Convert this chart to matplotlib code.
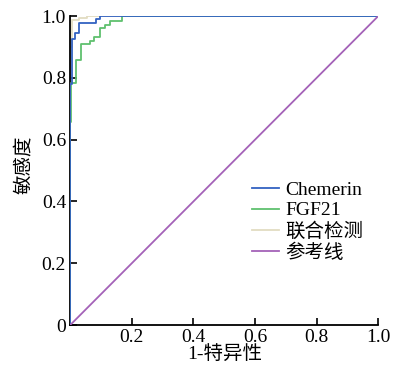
import matplotlib
matplotlib.use("Agg")
import matplotlib.pyplot as plt

plt.rcParams['font.family'] = ['Liberation Serif', 'Noto Sans CJK SC', 'DejaVu Sans']

# Chemerin ROC corners
chem_fpr = [0, 0, 0.005, 0.005, 0.015, 0.015, 0.03, 0.03, 0.085, 0.085, 0.097, 0.097, 1.0]
chem_tpr = [0, 0.78, 0.78, 0.927, 0.927, 0.944, 0.944, 0.977, 0.977, 0.989, 0.989, 1.0, 1.0]

# FGF21 ROC corners
fgf_fpr = [0, 0, 0.003, 0.003, 0.02, 0.02, 0.035, 0.035, 0.063, 0.063, 0.078, 0.078,
           0.098, 0.098, 0.112, 0.112, 0.13, 0.13, 0.167, 0.167, 1.0]
fgf_tpr = [0, 0.658, 0.658, 0.785, 0.785, 0.858, 0.858, 0.91, 0.91, 0.92, 0.92, 0.932,
           0.932, 0.96, 0.96, 0.972, 0.972, 0.985, 0.985, 1.0, 1.0]

# Combined detection ROC corners
comb_fpr = [0, 0, 0.005, 0.005, 0.028, 0.028, 0.056, 0.056, 1.0]
comb_tpr = [0, 0.9, 0.9, 0.986, 0.986, 0.994, 0.994, 1.0, 1.0]

ref_x = [0, 1]
ref_y = [0, 1]

labels = ['Chemerin', 'FGF21', '联合检测', '参考线']
colors = ['#3362c2', '#5fc06e', '#e2dcc2', '#a462b8']

x_ticks = [0.2, 0.4, 0.6, 0.8, 1.0]
x_ticklabels = ['0.2', '0.4', '0.6', '0.8', '1.0']
y_ticks = [0, 0.2, 0.4, 0.6, 0.8, 1.0]
y_ticklabels = ['0', '0.2', '0.4', '0.6', '0.8', '1.0']

fig = plt.figure(figsize=(3.99, 3.74), dpi=100)
ax = fig.add_axes([0.176, 0.131, 0.772, 0.826])

h_comb, = ax.plot(comb_fpr, comb_tpr, color=colors[2], lw=1.3, label=labels[2], zorder=2)
h_fgf, = ax.plot(fgf_fpr, fgf_tpr, color=colors[1], lw=1.3, label=labels[1], zorder=3)
h_chem, = ax.plot(chem_fpr, chem_tpr, color=colors[0], lw=1.3, label=labels[0], zorder=4)
h_ref, = ax.plot(ref_x, ref_y, color=colors[3], lw=1.3, label=labels[3], zorder=5)

ax.set_xlim(0, 1.0)
ax.set_ylim(0, 1.0)
ax.set_xticks(x_ticks)
ax.set_xticklabels(x_ticklabels)
ax.set_yticks(y_ticks)
ax.set_yticklabels(y_ticklabels)
ax.tick_params(direction='in', length=5, width=1.2, labelsize=14, pad=3)

for s in ['top', 'right']:
    ax.spines[s].set_visible(False)
for s in ['left', 'bottom']:
    ax.spines[s].set_linewidth(1.3)

ax.set_xlabel('1-特异性', fontsize=14, labelpad=0)
ax.set_ylabel('敏感度', fontsize=14)
ax.yaxis.set_label_coords(-0.12, 0.52)

ax.legend(handles=[h_chem, h_fgf, h_comb, h_ref], loc='upper left',
          bbox_to_anchor=(0.591, 0.465), frameon=False, fontsize=14,
          handlelength=1.35, handletextpad=0.35, labelspacing=0.15,
          borderaxespad=0, borderpad=0)

fig.savefig('out.png', dpi=100)
